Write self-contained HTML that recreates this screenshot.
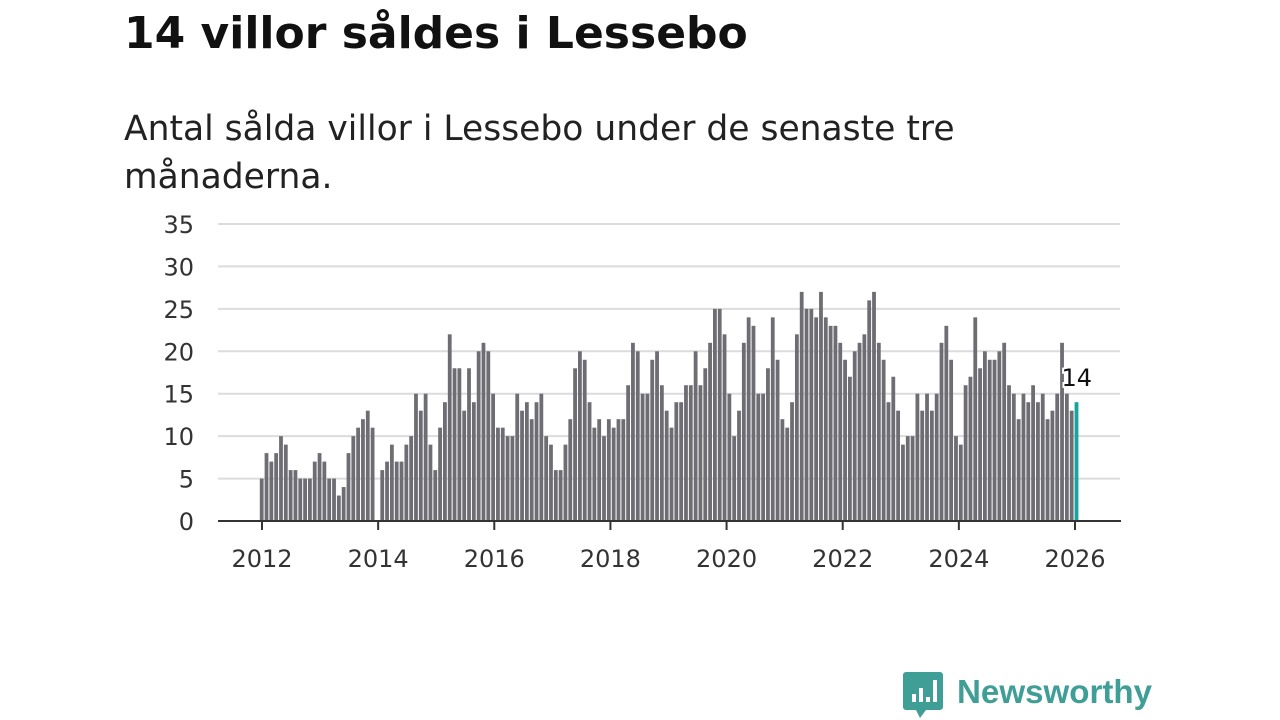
<!DOCTYPE html>
<html><head><meta charset="utf-8">
<style>
html,body{margin:0;padding:0;background:#fff;width:1280px;height:720px;overflow:hidden;font-family:"DejaVu Sans",sans-serif;}
#title{position:absolute;left:124px;top:8px;font-size:44px;font-weight:bold;color:#111;margin:0;white-space:nowrap}
#subtitle{position:absolute;left:124px;top:105px;font-size:34.5px;line-height:48px;color:#222;margin:0;width:1000px;white-space:nowrap}
svg{position:absolute;left:0;top:0}
</style></head>
<body>
<h1 id="title">14 villor såldes i Lessebo</h1>
<p id="subtitle">Antal sålda villor i Lessebo under de senaste tre<br>månaderna.</p>
<svg id="chart" width="1280" height="720"></svg>
<script>
const startYear = 2012;
const values = [
5,8,7,8,10,9,6,6,5,5,5,7,
8,7,5,5,3,4,8,10,11,12,13,11,
0,6,7,9,7,7,9,10,15,13,15,9,
6,11,14,22,18,18,13,18,14,20,21,20,
15,11,11,10,10,15,13,14,12,14,15,10,
9,6,6,9,12,18,20,19,14,11,12,10,
12,11,12,12,16,21,20,15,15,19,20,16,
13,11,14,14,16,16,20,16,18,21,25,25,
22,15,10,13,21,24,23,15,15,18,24,19,
12,11,14,22,27,25,25,24,27,24,23,23,
21,19,17,20,21,22,26,27,21,19,14,17,
13,9,10,10,15,13,15,13,15,21,23,19,
10,9,16,17,24,18,20,19,19,20,21,16,
15,12,15,14,16,14,15,12,13,15,21,15,
13,14];
const yTicks = [0,5,10,15,20,25,30,35];
const xTickYears = [2012,2014,2016,2018,2020,2022,2024,2026];
const lastLabel = "14";

const NS="http://www.w3.org/2000/svg";
const svg=document.getElementById('chart');
const y = v => 521 - v*(297/35);
const xYear = yr => 262 + (yr-2012)*(813/14);
const xBar = i => 261.7 + i*((1076.5-261.7)/(values.length-1));
function mk(tag,attrs){const e=document.createElementNS(NS,tag);for(const k in attrs)e.setAttribute(k,attrs[k]);svg.appendChild(e);return e;}
const F='DejaVu Sans, sans-serif';

yTicks.forEach(t=>{
  if(t>0){const g=mk('line',{x1:218,x2:1120,y1:y(t),y2:y(t),stroke:'#dcdcdc','stroke-width':2});
  
  }
  const l=mk('text',{x:194,y:y(t)+9,'text-anchor':'end','font-size':24,fill:'#333','font-family':F});
  l.textContent=t;
  
  
});

values.forEach((v,i)=>{
  if(v<=0)return;
  const last=i===values.length-1;
  const r=mk('rect',{x:xBar(i)-1.9,y:y(v),width:3.8,height:521-y(v),fill:last?'#16a59b':'#6e6d73'});
  
  
});

const ax=mk('line',{x1:218,x2:1121,y1:521,y2:521,stroke:'#333','stroke-width':2});



xTickYears.forEach(yr=>{
  const t=mk('line',{x1:xYear(yr),x2:xYear(yr),y1:521,y2:530,stroke:'#333','stroke-width':2});
  
  
  const l=mk('text',{x:xYear(yr),y:567,'text-anchor':'middle','font-size':24,fill:'#333','font-family':F});
  l.textContent=yr;
  
  
});

const ll=mk('text',{x:xBar(values.length-1)-15,y:y(values[values.length-1])-16,'font-size':24,fill:'#111',stroke:'#fff','stroke-width':4,'paint-order':'stroke','font-family':F});
ll.textContent=lastLabel;



// logo
const lg=mk('g',{});


const ic=document.createElementNS(NS,'path');
ic.setAttribute('d','M906 672 h34 a3 3 0 0 1 3 3 v32 a3 3 0 0 1 -3 3 h-14 l-6 8 l-4 -8 h-10 a3 3 0 0 1 -3 -3 v-32 a3 3 0 0 1 3 -3z');
ic.setAttribute('fill','#3f9e96');lg.appendChild(ic);
[[912,694,8],[919,688,14],[926,697,5],[933,680,22]].forEach(b=>{const r=document.createElementNS(NS,'rect');r.setAttribute('x',b[0]);r.setAttribute('y',b[1]);r.setAttribute('width',4);r.setAttribute('height',b[2]);r.setAttribute('fill','#fff');lg.appendChild(r);});
const lt=mk('text',{x:957,y:703,'font-size':33,'font-weight':'bold',fill:'#3f9e96','font-family':'Liberation Sans, sans-serif',textLength:195,lengthAdjust:'spacingAndGlyphs'});
lt.textContent='Newsworthy';


</script>
</body></html>
